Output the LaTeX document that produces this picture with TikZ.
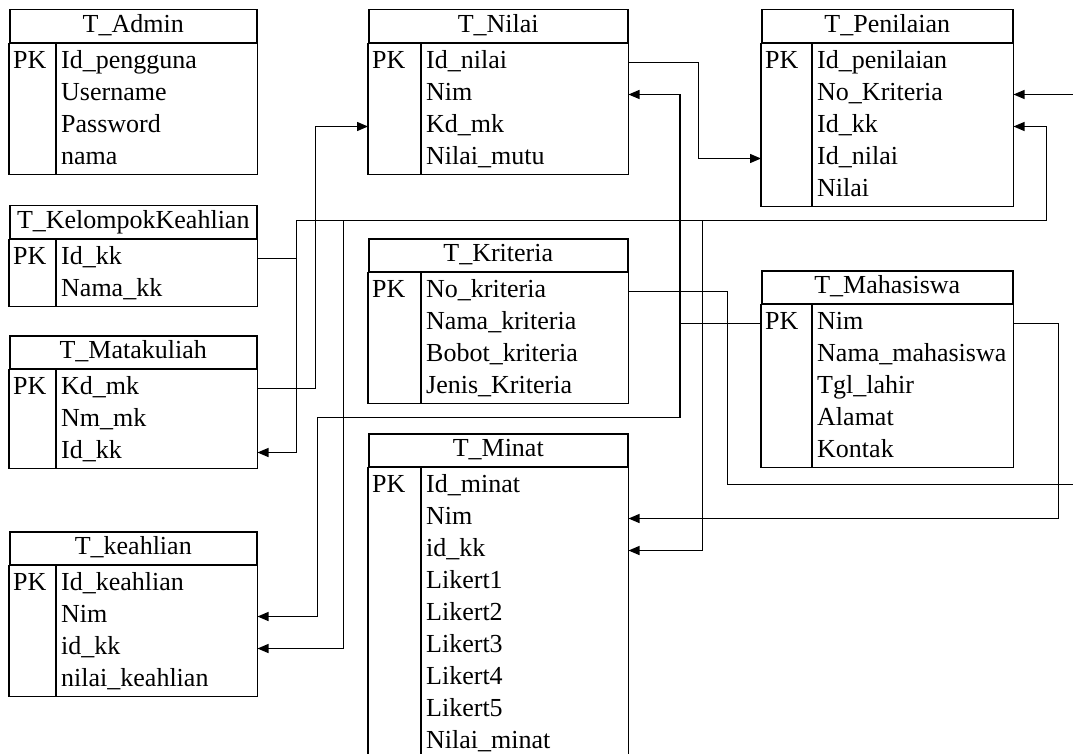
\documentclass[tikz,border=0pt]{standalone}
\usepackage{fontspec}
\setmainfont{Liberation Serif}
\usetikzlibrary{calc,arrows.meta}

\tikzset{
  tbl/.style={line width=1.5pt},
  hdr/.style={tbl,draw,anchor=north west,minimum height=33pt,inner sep=0pt,text height=18pt,text depth=6pt},
  fld/.style={anchor=west,inner sep=0pt,text height=18pt,text depth=6pt},
  fk/.style={line width=1.3pt,-{Triangle[length=11pt,width=9pt]}},
  rel/.style={line width=1.3pt}
}

% #1 name, #2 top left, #3 width, #4 PK column, #5 title, #6 fields, #7 rows
\newcommand{\tabel}[7]{%
  \node[hdr,minimum width=#3pt] (#1) at (#2) {#5};
  \draw[tbl] (#1.south west) rectangle ($(#1.south east)+(0,3+32*#7)$);
  \draw[tbl] ($(#1.south west)+(#4,0)$) -- ++(0,3+32*#7);
  \node[fld] (#1-pk) at ($(#1.south west)+(4,19)$) {PK};
  \foreach \f [count=\i] in {#6} {
    \node[fld] (#1-\i) at ($(#1.south west)+(#4+5,32*\i-13)$) {\f};
    \coordinate (#1-\i-l) at (#1.west |- #1-\i);
    \coordinate (#1-\i-r) at (#1.east |- #1-\i);
  }
}

\begin{document}
\begin{tikzpicture}[x=1pt,y=-1pt,font=\fontsize{26}{30}\selectfont]
\useasboundingbox (0,0) rectangle (1073,754);

\tabel{Adm}{9,9}{247}{47}{T\_Admin}{Id\_pengguna,Username,Password,nama}{4}
\tabel{Nilai}{368,9}{259}{53}{T\_Nilai}{Id\_nilai,Nim,Kd\_mk,Nilai\_mutu}{4}
\tabel{Pen}{761,9}{251}{51}{T\_Penilaian}{Id\_penilaian,No\_Kriteria,Id\_kk,Id\_nilai,Nilai}{5}
\tabel{Kel}{9,205}{247}{47}{T\_KelompokKeahlian}{Id\_kk,Nama\_kk}{2}
\tabel{Mk}{9,335}{247}{47}{T\_Matakuliah}{Kd\_mk,Nm\_mk,Id\_kk}{3}
\tabel{Kea}{9,531}{247}{47}{T\_keahlian}{Id\_keahlian,Nim,id\_kk,nilai\_keahlian}{4}
\tabel{Kri}{368,238}{259}{53}{T\_Kriteria}{No\_kriteria,Nama\_kriteria,Bobot\_kriteria,Jenis\_Kriteria}{4}
\tabel{Min}{368,433}{259}{53}{T\_Minat}{Id\_minat,Nim,id\_kk,Likert1,Likert2,Likert3,Likert4,Likert5,Nilai\_minat}{9}
\tabel{Mhs}{761,270}{251}{51}{T\_Mahasiswa}{Nim,Nama\_mahasiswa,Tgl\_lahir,Alamat,Kontak}{5}

\draw[fk] (Nilai-1-r) -- ++(70,0) |- (Pen-4-l);
\draw[fk] (Mk-1-r) -- ++(58,0) |- (Nilai-3-l);
\draw[fk] (Kel-1-r) -- ++(39,0) coordinate (kk) |- (Mk-3-r);
\draw[fk] (kk) -- ++(0,-38) coordinate (kkt) -| ($(Pen-3-r)+(33,0)$) -- (Pen-3-r);
\draw[fk] ($(kkt)+(47,0)$) |- (Kea-3-r);
\draw[fk] ($(kkt)+(406,0)$) |- (Min-3-r);
\draw[rel] (Mhs-1-l) -- ++(-81,0) coordinate (nim);
\draw[fk] (nim) |- (Nilai-2-r);
\draw[fk] (nim) -- ++(0,94) -| ($(Kea-2-r)+(60,0)$) -- (Kea-2-r);
\draw[fk] (Mhs-1-r) -- ++(45,0) |- (Min-2-r);
\draw[fk] (Kri-1-r) -- ++(99,0) -- ++(0,193) -| ($(Pen-2-r)+(75,0)$) -- (Pen-2-r);
\end{tikzpicture}
\end{document}
